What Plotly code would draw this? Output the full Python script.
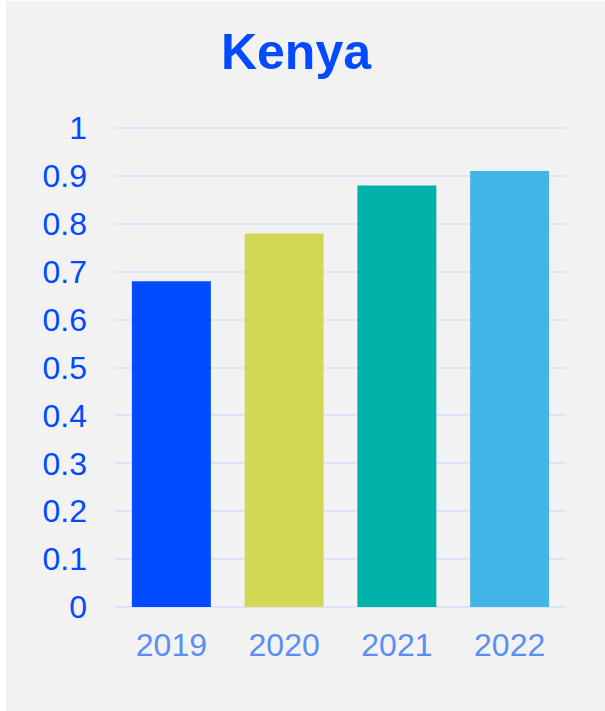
import plotly.graph_objects as go

years = ["2019", "2020", "2021", "2022"]
values = [0.68, 0.78, 0.88, 0.91]
bar_colors = ["#004bff", "#d3d756", "#00b2a9", "#41b6e6"]
y_tickvals = [0, 0.1, 0.2, 0.3, 0.4, 0.5, 0.6, 0.7, 0.8, 0.9, 1]
y_ticktext = ["0", "0.1", "0.2", "0.3", "0.4", "0.5", "0.6", "0.7", "0.8", "0.9", "1"]

W, H = 605, 711
L, R, T, B = 115, 39, 123, 104
pw, ph = W - L - R, H - T - B
y_top = ph / 479.0

fig = go.Figure(go.Bar(x=years, y=values, marker=dict(color=bar_colors, line=dict(width=0)),
                       hoverinfo="skip"))

font_fam = "Arial, Liberation Sans, sans-serif"
fig.update_layout(
    width=W, height=H,
    margin=dict(l=L, r=R, t=T, b=B, pad=0),
    paper_bgcolor="#f2f2f2", plot_bgcolor="#f2f2f2",
    bargap=0.3,
    showlegend=False,
    title=dict(text="<b>Kenya</b>", x=296 / W, xanchor="center", y=1 - 51 / H, yanchor="middle",
               font=dict(family=font_fam, size=50, color="#004bff")),
    xaxis=dict(showgrid=False, showline=False, zeroline=False, ticks="",
               tickfont=dict(family=font_fam, size=32, color="#5b8ef5"),
               ticklabelstandoff=16),
    yaxis=dict(range=[0, y_top], tickvals=y_tickvals, ticktext=y_ticktext,
               showgrid=True, gridcolor="#dae4fb", gridwidth=2,
               zeroline=True, zerolinecolor="#dae4fb", zerolinewidth=2,
               showline=False, ticks="",
               tickfont=dict(family=font_fam, size=32, color="#004bff"),
               ticklabelstandoff=27),
    shapes=[
        dict(type="rect", xref="paper", yref="paper",
             x0=-L / pw - 0.05, x1=(6 - L) / pw, y0=-B / ph - 0.1, y1=(H - B) / ph + 0.1,
             fillcolor="white", line=dict(width=0), layer="above"),
        dict(type="rect", xref="paper", yref="paper",
             x0=-L / pw - 0.05, x1=(W - L) / pw + 0.1, y0=(H - B - 1) / ph, y1=(H - B) / ph + 0.1,
             fillcolor="white", line=dict(width=0), layer="above"),
    ],
)

fig.write_html("out.html", config={"displayModeBar": False},
               post_script="document.body.style.margin='0px';document.body.style.padding='0px';")
